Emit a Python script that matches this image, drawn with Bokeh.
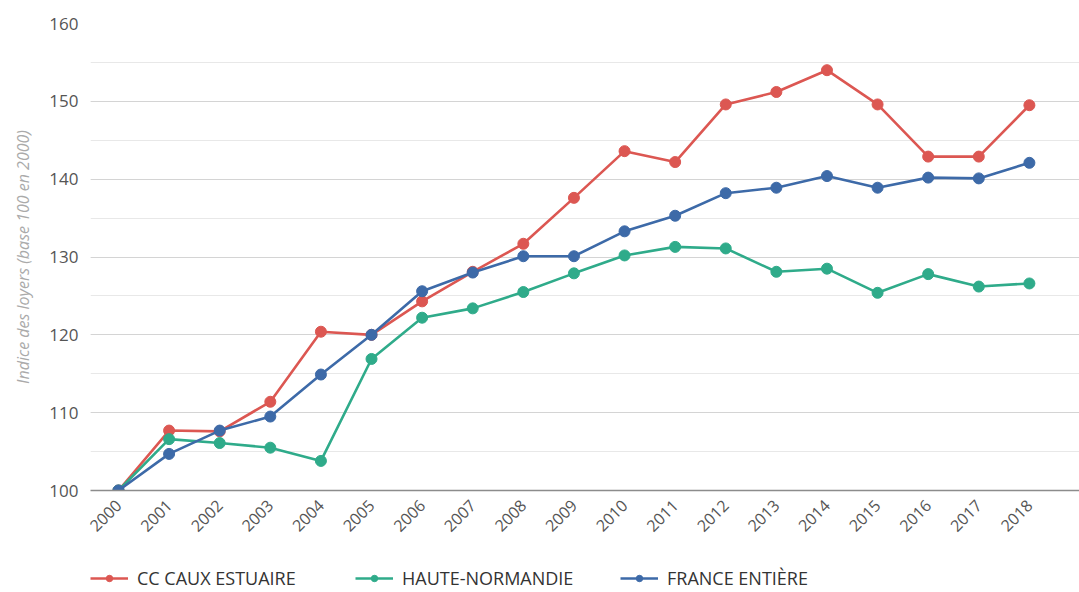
import math
from bokeh.plotting import figure
from bokeh.layouts import column
from bokeh.models import Legend, SingleIntervalTicker, FixedTicker, Range1d
from bokeh.embed import file_html
from bokeh.resources import INLINE

years = list(range(2000, 2019))
caux = [100, 107.7, 107.6, 111.4, 120.4, 120.0, 124.3, 128.1, 131.7, 137.6, 143.6,
        142.2, 149.6, 151.2, 154.0, 149.6, 142.9, 142.9, 149.5]
haute = [100, 106.6, 106.1, 105.5, 103.8, 116.9, 122.2, 123.4, 125.5, 127.9, 130.2,
         131.3, 131.1, 128.1, 128.5, 125.4, 127.8, 126.2, 126.6]
france = [100, 104.7, 107.7, 109.5, 114.9, 120.0, 125.6, 128.0, 130.1, 130.1, 133.3,
          135.3, 138.2, 138.9, 140.4, 138.9, 140.2, 140.1, 142.1]
series = [("CC CAUX ESTUAIRE", caux, "#dc5752"),
          ("HAUTE-NORMANDIE", haute, "#2fab8a"),
          ("FRANCE ENTIÈRE", france, "#3d6aa8")]

FONT = "Open Sans"

# main chart
p = figure(width=1079, height=548, output_backend="svg", toolbar_location=None,
           x_range=Range1d(1999.447, 2018.99), y_range=Range1d(100, 160),
           min_border_left=90, min_border_top=23, min_border_right=0, min_border_bottom=58)
p.outline_line_color = None
p.background_fill_color = "white"

for name, vals, col in series:
    p.line(years, vals, line_color=col, line_width=2.6)
    p.scatter(years, vals, size=11, fill_color=col, line_color=col)

p.xgrid.grid_line_color = None
p.yaxis.ticker = SingleIntervalTicker(interval=10, num_minor_ticks=2)
p.ygrid.grid_line_color = "#d4d4d4"
p.ygrid.grid_line_width = 1.2
p.ygrid.minor_grid_line_color = "#e8e8e8"
p.ygrid.minor_grid_line_width = 1.2

p.xaxis.ticker = FixedTicker(ticks=years)
p.xaxis.major_label_orientation = math.pi / 4
p.xaxis.axis_line_color = "#8c8c8c"
p.xaxis.axis_line_width = 1.6
p.xaxis.major_tick_line_color = None
p.xaxis.minor_tick_line_color = None
p.xaxis.major_label_text_font = FONT
p.xaxis.major_label_text_font_size = "16px"
p.xaxis.major_label_text_color = "#555555"
p.xaxis.major_label_standoff = 6

p.yaxis.axis_line_color = None
p.yaxis.major_tick_line_color = None
p.yaxis.minor_tick_line_color = None
p.yaxis.major_label_text_font = FONT
p.yaxis.major_label_text_font_size = "17px"
p.yaxis.major_label_text_color = "#555555"
p.yaxis.major_label_standoff = 6
p.yaxis.axis_label = "Indice des loyers (base 100 en 2000)"
p.yaxis.axis_label_text_font = FONT
p.yaxis.axis_label_text_font_style = "italic"
p.yaxis.axis_label_text_font_size = "16px"
p.yaxis.axis_label_text_color = "#aaaaaa"
p.yaxis.axis_label_standoff = 12

# legend strip (same series, drawn outside its visible range)
lg = figure(width=1079, height=44, output_backend="svg", toolbar_location=None,
            x_range=Range1d(0, 1), y_range=Range1d(0, 1),
            x_axis_location=None, y_axis_location=None,
            min_border_left=0, min_border_right=0, min_border_top=0, min_border_bottom=0)
lg.outline_line_color = None
lg.xgrid.grid_line_color = None
lg.ygrid.grid_line_color = None
items = []
for name, vals, col in series:
    r1 = lg.line(years, vals, line_color=col, line_width=2.6)
    r2 = lg.scatter(years, vals, size=11, fill_color=col, line_color=col)
    items.append((name, [r1, r2]))

legend = Legend(items=items, orientation="horizontal", location=(0, 2),
                label_text_font=FONT, label_text_font_size="18px",
                label_text_color="#333333", glyph_width=38, glyph_height=16,
                spacing=0, label_standoff=9, label_width=218,
                border_line_color=None, background_fill_alpha=0, margin=0, padding=0)
lg.add_layout(legend, "center")

layout = column(p, lg, spacing=0)
open("out.html", "w").write(file_html(layout, INLINE))
